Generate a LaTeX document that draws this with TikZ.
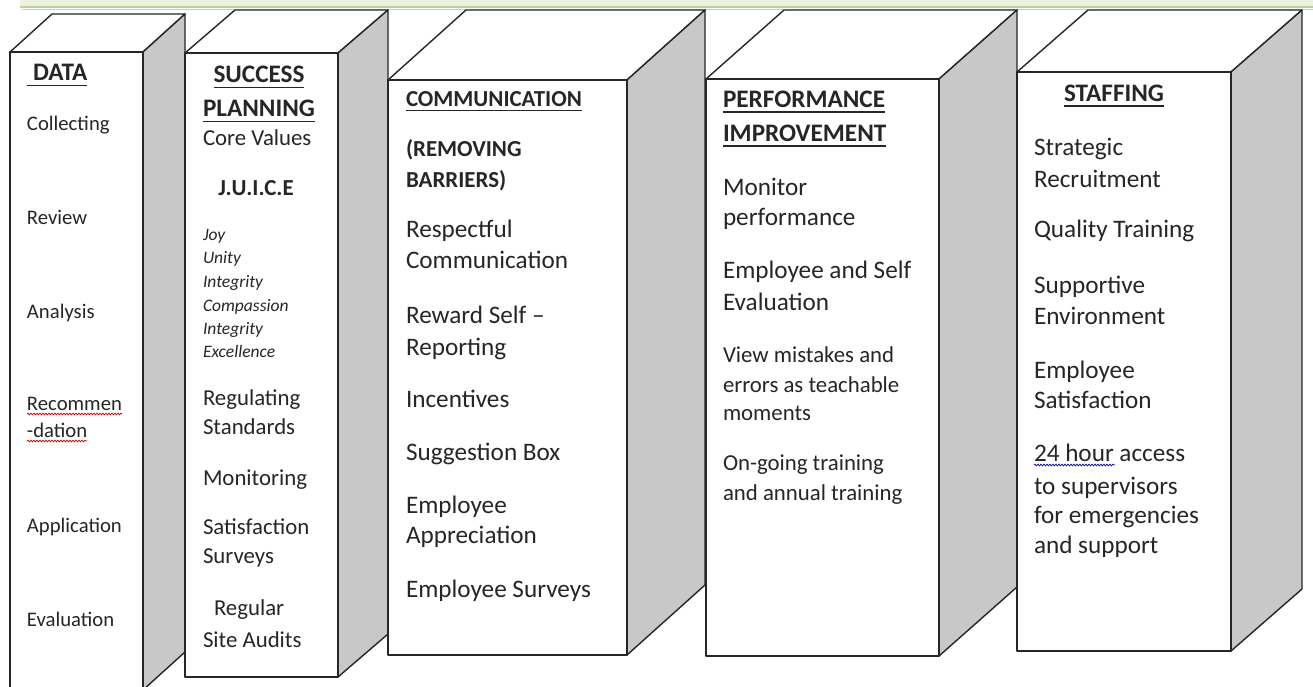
\documentclass[tikz,border=0pt]{standalone}
\usepackage{fontspec}
\setmainfont{Carlito}
\usetikzlibrary{decorations.pathmorphing}
\definecolor{sidegray}{RGB}{200,200,200}
\definecolor{barfill}{RGB}{236,242,222}
\definecolor{barline}{RGB}{190,210,150}
\definecolor{inktext}{RGB}{38,38,38}
\begin{document}
\begin{tikzpicture}[x=1pt,y=-1pt,
  face/.style={draw=black!85, line width=1.4pt, fill=white, line join=round},
  sideface/.style={face, fill=sidegray},
  txt/.style={anchor=base west, inner sep=0pt, outer sep=0pt, text=inktext},
  fa/.style={txt, font=\fontsize{20.7}{24}\selectfont},
  fb/.style={txt, font=\fontsize{22.8}{26}\selectfont},
  fc/.style={txt, font=\fontsize{25.2}{29}\selectfont},
  fi/.style={txt, font=\fontsize{17.5}{20}\selectfont\itshape},
  hd/.style={txt, font=\fontsize{25.2}{29}\selectfont\bfseries},
  hs/.style={txt, font=\fontsize{22.9}{27}\selectfont\bfseries},
  uline/.style={draw=inktext, line width=1.3pt},
  wavy/.style={line width=0.7pt, decorate, decoration={snake, amplitude=0.9pt, segment length=3pt}}]
\useasboundingbox (0,0) rectangle (1313,687);
% top bar
\fill[barfill] (20,0) rectangle (1313,7);
\draw[black!20, line width=1.5pt] (22,9.5) -- (1313,9.5);
\draw[barline, line width=1.5pt] (20,7) -- (1313,7);
% cube 1
\draw[face] (10,52) -- (52,14) -- (185,14) -- (143,52) -- cycle;
\draw[sideface] (143,52) -- (185,14) -- (185,652) -- (143,690) -- cycle;
\draw[face] (10,52) rectangle (143,690);
% cube 2
\draw[face] (185,53) -- (235,10) -- (388,10) -- (338,53) -- cycle;
\draw[sideface] (338,53) -- (388,10) -- (388,634) -- (338,677) -- cycle;
\draw[face] (185,53) rectangle (338,677);
% cube 3
\draw[face] (388,80) -- (466,10) -- (705,10) -- (627,80) -- cycle;
\draw[sideface] (627,80) -- (705,10) -- (705,585) -- (627,655) -- cycle;
\draw[face] (388,80) rectangle (627,655);
% cube 4
\draw[face] (706,79) -- (784,10) -- (1017,10) -- (939,79) -- cycle;
\draw[sideface] (939,79) -- (1017,10) -- (1017,587) -- (939,656) -- cycle;
\draw[face] (706,79) rectangle (939,656);
% cube 5
\draw[face] (1017,72) -- (1088,10) -- (1302,10) -- (1231,72) -- cycle;
\draw[sideface] (1231,72) -- (1302,10) -- (1302,589) -- (1231,651) -- cycle;
\draw[face] (1017,72) rectangle (1231,651);

% ---- DATA column
\node[hd] (dh) at (33,81) {DATA};
\draw[uline] (27,85.5) -- ([yshift=-4.5pt]dh.base east);
\node[fa] (d1) at (27,131) {Collecting};
\node[fa] (d2) at (27,224) {Review};
\node[fa] (d3) at (27,318) {Analysis};
\node[fa] (d4) at (27,410) {Recommen};
\node[fa] (d5) at (27,437) {-dation};
\draw[wavy, red!80!black] ([yshift=-4pt]d4.base west) -- ([yshift=-4pt]d4.base east);
\draw[wavy, red!80!black] ([yshift=-4pt]d5.base west) -- ([yshift=-4pt]d5.base east);
\node[fa] (d6) at (27,532) {Application};
\node[fa] (d7) at (27,626) {Evaluation};

% ---- SUCCESS PLANNING column
\node[hd, anchor=base] (sh1) at (259,83) {SUCCESS};
\draw[uline] ([yshift=-4.5pt]sh1.base west) -- ([yshift=-4.5pt]sh1.base east);
\node[hd, anchor=base] (sh2) at (259,117) {PLANNING};
\draw[uline] ([yshift=-4.5pt]sh2.base west) -- ([yshift=-4.5pt]sh2.base east);
\node[fb] (s1) at (203,146) {Core Values};
\node[hs, anchor=base] (s2) at (256,196) {J.U.I.C.E};
\node[fi] (s3) at (203,240) {Joy};
\node[fi] (s4) at (203,263) {Unity};
\node[fi] (s5) at (203,287) {Integrity};
\node[fi] (s6) at (203,311) {Compassion};
\node[fi] (s7) at (203,334) {Integrity};
\node[fi] (s8) at (203,357) {Excellence};
\node[fb] (s9) at (203,405) {Regulating};
\node[fb] (s10) at (203,434) {Standards};
\node[fb] (s11) at (203,485) {Monitoring};
\node[fb] (s12) at (203,534) {Satisfaction};
\node[fb] (s13) at (203,563) {Surveys};
\node[fb] (s14) at (214,615) {Regular};
\node[fb] (s15) at (203,647) {Site Audits};

% ---- COMMUNICATION column
\node[hs] (ch) at (406,107) {COMMUNICATION};
\draw[uline] ([yshift=-3.5pt]ch.base west) -- ([yshift=-3.5pt]ch.base east);
\node[hs] (c1) at (406,157) {(REMOVING};
\node[hs] (c2) at (406,187) {BARRIERS)};
\node[fc] (c3) at (406,237) {Respectful};
\node[fc] (c4) at (406,268) {Communication};
\node[fc] (c5) at (406,323) {Reward Self –};
\node[fc] (c6) at (406,355) {Reporting};
\node[fc] (c7) at (406,407) {Incentives};
\node[fc] (c8) at (406,460) {Suggestion Box};
\node[fc] (c9) at (406,513) {Employee};
\node[fc] (c10) at (406,543) {Appreciation};
\node[fc] (c11) at (406,597) {Employee Surveys};

% ---- PERFORMANCE column
\node[hd] (ph1) at (723,108) {PERFORMANCE};
\draw[uline] ([yshift=-4pt]ph1.base west) -- ([yshift=-4pt]ph1.base east);
\node[hd] (ph2) at (723,142) {IMPROVEMENT};
\draw[uline] ([yshift=-4pt]ph2.base west) -- ([yshift=-4pt]ph2.base east);
\node[fc] (p1) at (723,195) {Monitor};
\node[fc] (p2) at (723,225) {performance};
\node[fc] (p3) at (723,278) {Employee and Self};
\node[fc] (p4) at (723,310) {Evaluation};
\node[fb] (p5) at (723,362) {View mistakes and};
\node[fb] (p6) at (723,392) {errors as teachable};
\node[fb] (p7) at (723,420) {moments};
\node[fb] (p8) at (723,470) {On-going training};
\node[fb] (p9) at (723,500) {and annual training};

% ---- STAFFING column
\node[hd, anchor=base] (fh) at (1114,102) {STAFFING};
\draw[uline] ([yshift=-4pt]fh.base west) -- ([yshift=-4pt]fh.base east);
\node[fc] (f1) at (1034,156) {Strategic};
\node[fc] (f2) at (1034,187) {Recruitment};
\node[fc] (f3) at (1034,237) {Quality Training};
\node[fc] (f4) at (1034,293) {Supportive};
\node[fc] (f5) at (1034,324) {Environment};
\node[fc] (f6) at (1034,378) {Employee};
\node[fc] (f7) at (1034,408) {Satisfaction};
\node[fc] (f8) at (1034,461) {24 hour access};
\coordinate (w24) at (1115,465);
\draw[wavy, blue!70!black] ([yshift=-4pt]f8.base west) -- (w24);
\node[fc] (f9) at (1034,494) {to supervisors};
\node[fc] (f10) at (1034,523) {for emergencies};
\node[fc] (f11) at (1034,553) {and support};
\end{tikzpicture}
\end{document}
